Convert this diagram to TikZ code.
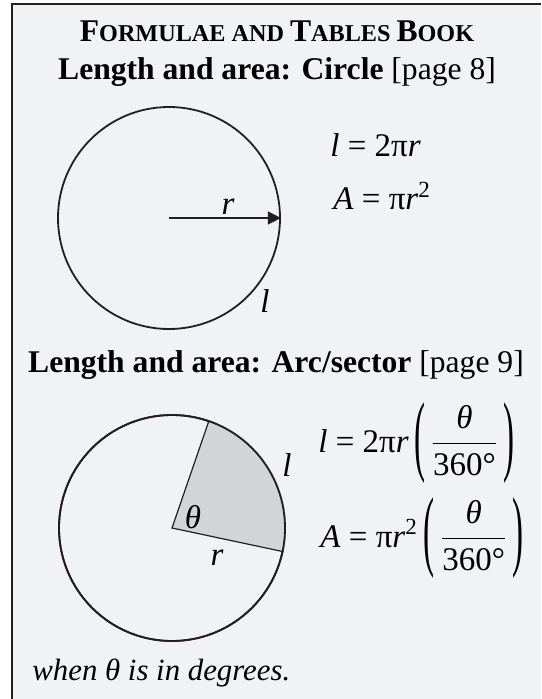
\documentclass[tikz,border=0pt]{standalone}
\usepackage{amsmath}
\usepackage{graphicx}
\usepackage{fontspec}
\setmainfont{Liberation Serif}
\usetikzlibrary{arrows.meta, positioning}
\definecolor{bookbg}{HTML}{F1F2F4}
\definecolor{bookline}{HTML}{231F20}
\definecolor{sectorgray}{HTML}{D3D4D6}
\newcommand{\scbig}[1]{{\fontsize{15.8}{19}\selectfont #1}}
\newcommand{\tallparen}[1]{$\vcenter{\hbox{\scalebox{1}[2.7]{#1}}}$}
\newcommand{\degfrac}{$\dfrac{\textit{θ}}{\text{360°}}$}

\begin{document}
\begin{tikzpicture}[
  x=0.5pt, y=-0.5pt,
  head/.style={font=\fontsize{15.8}{19}\selectfont, anchor=base, inner sep=0pt},
  formula/.style={font=\fontsize{16.5}{19}\selectfont, anchor=base west, inner sep=0pt},
  lbl/.style={font=\fontsize{16.5}{19}\selectfont\itshape, inner sep=0pt},
  disc/.style={circle, draw=bookline, line width=0.9pt, inner sep=0pt},
  radarr/.style={-{Triangle[length=6.5pt,width=6.5pt]}, line width=0.7pt, draw=bookline}
]
\useasboundingbox (0,0) rectangle (541,699);
\fill[white] (0,0) rectangle (541,699);
\fill[bookbg] (12,4) rectangle (541,699);
\draw[bookline, line width=0.9pt] (12,699) -- (12,4) -- (541,4);

\node[head, font=\bfseries\fontsize{12.1}{14}\selectfont] (booktitle) at (277,42)
  {\scbig{F}ORMULAE AND \scbig{T}ABLES \scbig{B}OOK};
\node[head] (circhead) at (277,80) {\textbf{Length and area: Circle} [page 8]};

\node[disc, minimum size=111pt] (circ1) at (169,218) {};
\draw[radarr] (circ1.center) -- (circ1.east);
\node[lbl] (rad1) at (228,207) {r};
\node[lbl] (len1) at (265,301) {l};

\node[formula] (lform) at (330,157) {\textit{l} = 2π\textit{r}};
\node[formula] (aform) at (333,210) {\textit{A} = π\textit{r}\textsuperscript{2}};

\node[head] (sechead) at (276,372) {\textbf{Length and area: Arc/sector} [page 9]};

\node[disc, minimum size=113pt] (circ2) at (172,528) {};
\fill[sectorgray] (circ2.center) -- (circ2.-12.3) arc[start angle=-12.3, end angle=71.2, radius=56.5pt] -- cycle;
\draw[bookline, line width=0.6pt] (circ2.-12.3) -- (circ2.center) -- (circ2.71.2);
\node[disc, minimum size=113pt] at (circ2.center) {};
\node[lbl] (theta) at (193,517) {θ};
\node[lbl] (rad2) at (217,558) {r};
\node[lbl] (len2) at (287,465) {l};

\node[formula] (lsec) at (318,452)
  {\textit{l} = 2π\textit{r}\,\tallparen{(}\,\degfrac\,\tallparen{)}};
\node[formula] (asec) at (320,547)
  {\textit{A} = π\textit{r}\textsuperscript{2}\,\tallparen{(}\,\degfrac\,\tallparen{)}};

\node[formula, font=\fontsize{15.4}{19}\selectfont\itshape] (note) at (32,680) {when θ is in degrees.};
\end{tikzpicture}
\end{document}
